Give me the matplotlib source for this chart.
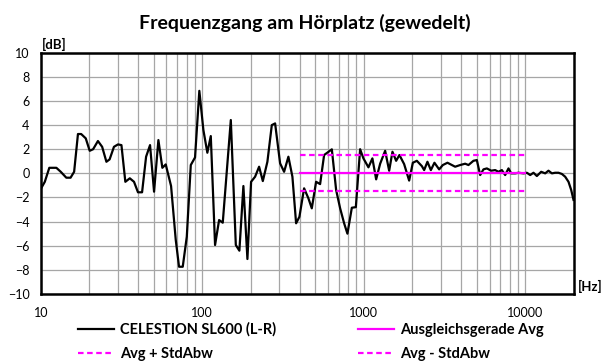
import numpy as np
import matplotlib
matplotlib.use("Agg")
import matplotlib.pyplot as plt
from matplotlib.ticker import FixedLocator, NullFormatter

plt.rcParams['font.family'] = ['Lato', 'DejaVu Sans']

freq = [10.0, 10.6, 11.3, 12.5, 13.3, 14.4, 15.3, 16.1, 17.0, 17.8,
        19.0, 20.1, 21.1, 22.6, 24.0, 25.5, 26.7, 28.4, 30.1, 31.6,
        33.4, 35.6, 37.8, 40.0, 42.4, 44.9, 47.5, 50.3, 53.5, 56.6,
        59.4, 64.1, 68.5, 71.8, 75.7, 80.2, 84.9, 90.2, 95.9, 101.6,
        107.5, 112.9, 120.0, 127.1, 133.9, 150.2, 161.3, 169.7, 179.7, 190.3,
        200.5, 212.3, 224.8, 237.0, 253.0, 269.4, 282.4, 303.2, 321.0, 341.3,
        361.4, 380.9, 399.3, 426.9, 453.9, 476.4, 506.5, 536.3, 567.8, 633.9,
        673.9, 713.5, 755.3, 791.6, 842.9, 892.4, 948.7, 994.3, 1068, 1130,
        1192, 1262, 1355, 1435, 1504, 1585, 1661, 1776, 1908, 2011,
        2129, 2287, 2363, 2476, 2600, 2736, 2926, 3084, 3294, 3507,
        3675, 3948, 4239, 4443, 4770, 5008, 5250, 5503, 5775, 6141,
        6501, 6813, 7153, 7497, 7861, 8170, 8647, 9064, 9732, 10216,
        10708, 11225, 11781, 12525, 13262, 13900, 14594, 15293, 16032, 16829,
        17636, 18492, 19217, 19860]
level = [-1.3, -0.7, 0.46, 0.46, 0.13, -0.36, -0.36, 0.13, 3.26, 3.26,
         2.9, 1.87, 2.0, 2.68, 2.2, 0.96, 1.16, 2.2, 2.4, 2.34,
         -0.7, -0.41, -0.7, -1.57, -1.57, 1.38, 2.34, -1.52, 2.76, 0.46,
         0.74, -1.05, -5.5, -7.74, -7.74, -5.25, 0.69, 1.32, 6.84, 3.59,
         1.71, 3.09, -5.94, -3.87, -4.09, 4.42, -5.94, -6.41, -1.05, -7.1,
         -0.7, -0.28, 0.55, -0.64, 0.96, 4.0, 4.14, 0.83, 0.13, 1.38,
         -0.28, -4.14, -3.6, -1.24, -2.07, -2.9, -0.7, -0.89, 1.52, 1.99,
         -1.38, -2.9, -4.14, -5.0, -2.85, -2.8, 2.0, 1.24, 0.5, 1.24,
         -0.5, 0.8, 1.87, 0.22, 1.79, 1.04, 1.52, 0.77, -0.6, 0.88,
         1.04, 0.6, 0.27, 0.96, 0.27, 0.88, 0.33, 0.69, 0.88, 0.69,
         0.55, 0.69, 0.8, 0.69, 1.04, 1.1, -0.14, 0.33, 0.41, 0.22,
         0.27, 0.13, 0.27, -0.14, 0.41, 0.0, 0.0, 0.05, 0.0, 0.05,
         -0.14, 0.05, -0.22, 0.13, 0.0, 0.22, 0.0, 0.05, 0.05, -0.05,
         -0.28, -0.7, -1.38, -2.2]

fit_range = [400, 10000]
avg = 0.03
std = 1.53

title = "Frequenzgang am Hörplatz (gewedelt)"
series_label = "CELESTION SL600 (L-R)"

fig = plt.figure(figsize=(6.06, 3.64), dpi=100)
ax = fig.add_axes([0.0672, 0.1923, 0.8800, 0.6629])

pink = '#ff00ff'
dash = (0, (2.5, 1.6))
l1, = ax.plot(freq, level, color='black', lw=1.6, label=series_label, zorder=3)
l2, = ax.plot(fit_range, [avg, avg], color=pink, lw=1.6, label="Ausgleichsgerade Avg", zorder=4)
l3, = ax.plot(fit_range, [avg + std, avg + std], color=pink, lw=1.6, ls=dash,
              label="Avg + StdAbw", zorder=4)
l4, = ax.plot(fit_range, [avg - std, avg - std], color=pink, lw=1.6, ls=dash,
              label="Avg - StdAbw", zorder=4)

ax.set_xscale('log')
ax.set_xlim(10, 20000)
ax.set_ylim(-10, 10)
ax.set_xticks([10, 100, 1000, 10000])
ax.set_xticklabels(["10", "100", "1000", "10000"])
minors = [m * d for d in [10, 100, 1000, 10000] for m in range(2, 10) if m * d < 20000]
ax.xaxis.set_minor_locator(FixedLocator(minors))
ax.xaxis.set_minor_formatter(NullFormatter())
ax.set_yticks(np.arange(-10, 11, 2))
ax.grid(True, which='both', color='#a6a6a6', lw=0.9)
ax.tick_params(which='both', length=0, labelsize=9)
ax.tick_params(axis='x', pad=9)
ax.tick_params(axis='y', pad=8)
for s in ax.spines.values():
    s.set_linewidth(1.8)
    s.set_zorder(5)

fig.text(0.503, 0.938, title, ha='center', va='center', fontsize=14, fontweight='bold')
fig.text(0.069, 0.878, "[dB]", ha='left', va='center', fontsize=9.5, fontweight='bold')
fig.text(0.953, 0.213, "[Hz]", ha='left', va='center', fontsize=9.5, fontweight='bold')

# column-wise fill, so order gives rows: (l1, l2), (l3, l4)
fig.legend(handles=[l1, l3, l2, l4], loc='upper left', bbox_to_anchor=(0.128, 0.115),
           ncol=2, frameon=False, prop={'weight': 'bold', 'size': 10.5},
           handlelength=2.5, handletextpad=0.4, columnspacing=5.6,
           labelspacing=0.7, borderaxespad=0, borderpad=0)

fig.savefig("out.png", dpi=100)
plt.close()
